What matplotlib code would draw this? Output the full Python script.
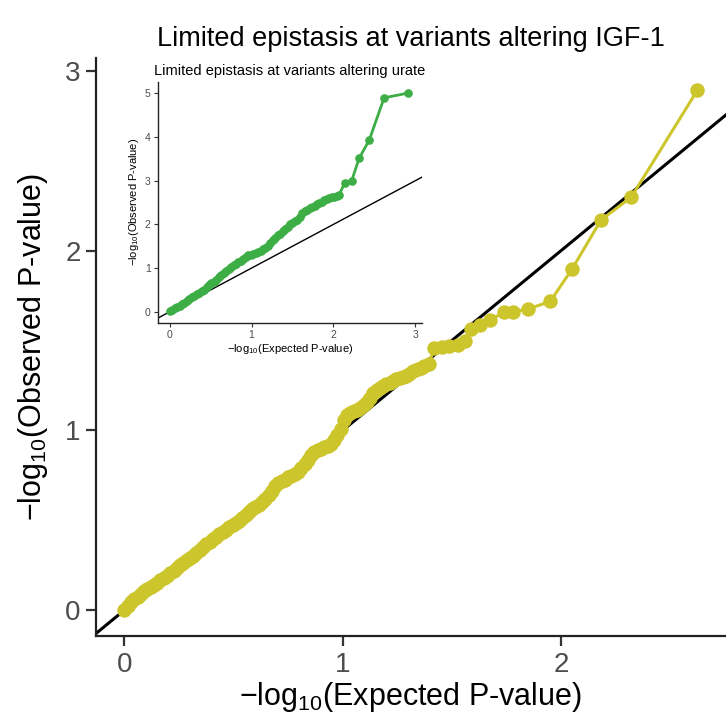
import matplotlib
matplotlib.use("Agg")
from matplotlib import pyplot as plt

plt.rcParams['font.family'] = ['Liberation Sans', 'DejaVu Sans']
plt.rcParams['mathtext.default'] = 'regular'

# main QQ (IGF-1): expected vs observed -log10 P
igf_exp = [0.000, 0.015, 0.030, 0.045, 0.060, 0.075, 0.090, 0.105, 0.120, 0.135,
           0.150, 0.165, 0.180, 0.195, 0.210, 0.225, 0.240, 0.255, 0.270, 0.285,
           0.300, 0.315, 0.330, 0.345, 0.360, 0.375, 0.390, 0.405, 0.420, 0.435,
           0.450, 0.465, 0.480, 0.495, 0.510, 0.525, 0.540, 0.555, 0.570, 0.585,
           0.600, 0.615, 0.630, 0.645, 0.660, 0.675, 0.690, 0.705, 0.720, 0.735,
           0.750, 0.765, 0.780, 0.795, 0.810, 0.825, 0.840, 0.855, 0.870, 0.885,
           0.900, 0.915, 0.930, 0.945, 0.960, 0.975, 0.990, 1.005, 1.020, 1.035,
           1.050, 1.065, 1.080, 1.095, 1.110, 1.125, 1.140, 1.155, 1.170, 1.185,
           1.200, 1.215, 1.230, 1.245, 1.260, 1.275, 1.290, 1.305,
           1.323, 1.343, 1.358, 1.373, 1.394,
           1.419, 1.453, 1.488, 1.526, 1.560, 1.587, 1.630, 1.674, 1.740, 1.781,
           1.847, 1.950, 2.050, 2.183, 2.321, 2.624]
igf_obs = [0.000, 0.020, 0.045, 0.062, 0.075, 0.090, 0.105, 0.115, 0.128, 0.140,
           0.151, 0.165, 0.178, 0.192, 0.207, 0.220, 0.234, 0.248, 0.262, 0.276,
           0.290, 0.303, 0.317, 0.333, 0.349, 0.365, 0.381, 0.395, 0.408, 0.422,
           0.436, 0.448, 0.460, 0.472, 0.483, 0.497, 0.515, 0.530, 0.545, 0.560,
           0.572, 0.585, 0.600, 0.620, 0.640, 0.662, 0.690, 0.705, 0.716, 0.726,
           0.738, 0.748, 0.758, 0.768, 0.790, 0.810, 0.833, 0.862, 0.878, 0.888,
           0.896, 0.905, 0.915, 0.925, 0.945, 0.975, 1.010, 1.060, 1.085, 1.095,
           1.105, 1.115, 1.125, 1.140, 1.160, 1.182, 1.205, 1.222, 1.234, 1.245,
           1.255, 1.265, 1.275, 1.285, 1.292, 1.296, 1.300, 1.315,
           1.330, 1.339, 1.348, 1.357, 1.367,
           1.457, 1.462, 1.468, 1.477, 1.496, 1.564, 1.584, 1.615, 1.657, 1.660,
           1.674, 1.717, 1.897, 2.171, 2.297, 2.892]

# inset QQ (urate)
urate_exp = [0.00, 0.03, 0.06, 0.09, 0.12, 0.15, 0.18, 0.21, 0.24, 0.27,
             0.30, 0.33, 0.36, 0.39, 0.42, 0.45, 0.48, 0.51, 0.54, 0.57,
             0.60, 0.63, 0.66, 0.69, 0.72, 0.75, 0.78, 0.81, 0.84, 0.87,
             0.90, 0.93, 0.96, 0.99, 1.02, 1.05, 1.08, 1.11, 1.14, 1.17,
             1.20, 1.23, 1.26, 1.29, 1.32, 1.35, 1.38, 1.41, 1.44, 1.47,
             1.50, 1.53, 1.56, 1.59, 1.62, 1.65, 1.68, 1.71, 1.74, 1.77,
             1.80, 1.83, 1.86, 1.89, 1.92, 1.95, 1.98, 2.01, 2.04, 2.07,
             2.143, 2.224, 2.317, 2.439, 2.621, 2.917]
urate_obs = [0.02, 0.05, 0.08, 0.11, 0.14, 0.17, 0.21, 0.25, 0.29, 0.33,
             0.36, 0.40, 0.43, 0.47, 0.51, 0.56, 0.61, 0.65, 0.69, 0.73,
             0.79, 0.84, 0.88, 0.93, 0.97, 1.02, 1.06, 1.10, 1.14, 1.17,
             1.21, 1.26, 1.29, 1.31, 1.33, 1.35, 1.37, 1.40, 1.43, 1.47,
             1.50, 1.57, 1.64, 1.70, 1.75, 1.79, 1.84, 1.89, 1.94, 2.00,
             2.04, 2.07, 2.10, 2.16, 2.27, 2.31, 2.34, 2.37, 2.40, 2.43,
             2.46, 2.49, 2.52, 2.55, 2.58, 2.60, 2.62, 2.64, 2.66, 2.68,
             2.96, 3.00, 3.52, 3.93, 4.90, 5.01]

igf_color = '#CDC52C'
urate_color = '#3DAE46'
tick_gray = '#4D4D4D'

fig = plt.figure(figsize=(7.26, 7.19), dpi=100)

ax = fig.add_axes([0.132, 0.115, 0.868, 0.804])
ax.axline((0, 0), slope=1, color='black', lw=2.2, zorder=1)
ax.plot(igf_exp, igf_obs, '-o', color=igf_color, lw=2.2, ms=9.4, zorder=2)
ax.set_xlim(-0.131, 2.755)
ax.set_ylim(-0.146, 3.07)
ax.set_xticks([0, 1, 2])
ax.set_yticks([0, 1, 2, 3])
for side in ['top', 'right']:
    ax.spines[side].set_visible(False)
for side in ['left', 'bottom']:
    ax.spines[side].set_linewidth(1.6)
    ax.spines[side].set_color('#222222')
ax.tick_params(length=7, width=1.6, color='#333333', labelsize=20,
               labelcolor=tick_gray, pad=4)
ax.set_xlabel('−log$_{10}$(Expected P-value)', fontsize=22, labelpad=2)
ax.set_ylabel('−log$_{10}$(Observed P-value)', fontsize=22, labelpad=11)
ax.set_title('Limited epistasis at variants altering IGF-1', fontsize=19.5,
             pad=9)

ins = fig.add_axes([0.2172, 0.5512, 0.3636, 0.3352])
ins.axline((0, 0), slope=1, color='black', lw=1.0, zorder=1)
ins.plot(urate_exp, urate_obs, '-o', color=urate_color, lw=2.0, ms=5.2,
         zorder=2)
ins.set_xlim(-0.147, 3.08)
ins.set_ylim(-0.25, 5.27)
ins.set_xticks([0, 1, 2, 3])
ins.set_yticks([0, 1, 2, 3, 4, 5])
for side in ['top', 'right']:
    ins.spines[side].set_visible(False)
for side in ['left', 'bottom']:
    ins.spines[side].set_linewidth(1.0)
    ins.spines[side].set_color('#222222')
ins.tick_params(length=3, width=0.8, color='#333333', labelsize=7.5,
                labelcolor=tick_gray, pad=2)
ins.set_xlabel('−log$_{10}$(Expected P-value)', fontsize=8, labelpad=2)
ins.set_ylabel('−log$_{10}$(Observed P-value)', fontsize=8, labelpad=3)
ins.set_title('Limited epistasis at variants altering urate', fontsize=10.5,
              pad=5)

fig.savefig('out.png', dpi=100)
